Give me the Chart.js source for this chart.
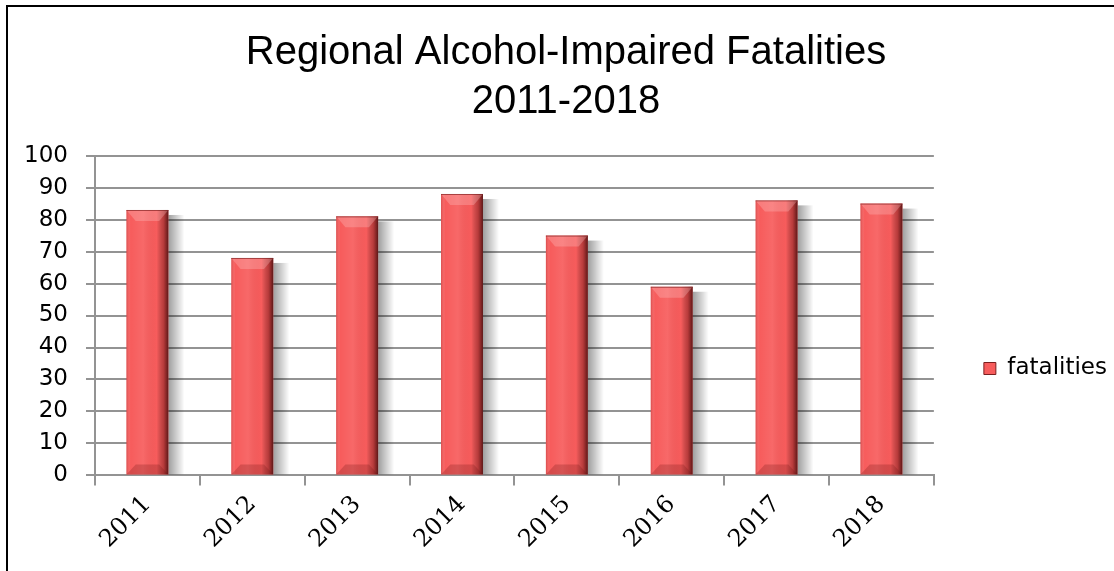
<!DOCTYPE html>
<html>
<head>
<meta charset="utf-8">
<script src="https://cdn.jsdelivr.net/npm/chart.js@4"></script>
<style>
  html, body { margin: 0; padding: 0; background: #fff; overflow: hidden; }
  #wrap { position: relative; width: 1114px; height: 571px; }
  #frame {
    position: absolute; left: 6px; top: 5px; width: 2000px; height: 1000px;
    border-left: 2px solid #000; border-top: 2px solid #000; pointer-events: none;
  }
</style>
</head>
<body>
<div id="wrap">
  <canvas id="fatalChart" width="1114" height="571"></canvas>
  <div id="frame"></div>
</div>
<script>
const years = ['2011', '2012', '2013', '2014', '2015', '2016', '2017', '2018'];
const fatalities = [83, 68, 81, 88, 75, 59, 86, 85];
const titleLines = ['Regional Alcohol-Impaired Fatalities', '2011-2018'];
const seriesName = 'fatalities';

const gridGray = '#939393';

// soft shadow to the right of every bar, plus the bevel shading on top
const barShadow = {
    id: 'barShadow',
    beforeDatasetsDraw(chart) {
        const ctx = chart.ctx;
        const meta = chart.getDatasetMeta(0);
        ctx.save();
        meta.data.forEach(bar => {
            const p = bar.getProps(['x', 'y', 'base', 'width'], true);
            const r = p.x + p.width / 2;
            const g = ctx.createLinearGradient(r, 0, r + 16, 0);
            g.addColorStop(0, 'rgba(0,0,0,0.38)');
            g.addColorStop(1, 'rgba(0,0,0,0)');
            ctx.fillStyle = g;
            ctx.fillRect(r, p.y + 5, 16, p.base - p.y - 5);
        });
        ctx.restore();
    },
    afterDatasetsDraw(chart) {
        const ctx = chart.ctx;
        const meta = chart.getDatasetMeta(0);
        ctx.save();
        meta.data.forEach(bar => {
            const p = bar.getProps(['x', 'y', 'base', 'width'], true);
            const l = p.x - p.width / 2, r = p.x + p.width / 2;
            const t = p.y, b = p.base, w = p.width;
            const g = ctx.createLinearGradient(l, 0, r, 0);
            g.addColorStop(0, 'rgba(150,30,30,0.3)');
            g.addColorStop(0.1, 'rgba(255,255,255,0)');
            g.addColorStop(0.4, 'rgba(255,255,255,0.08)');
            g.addColorStop(0.72, 'rgba(0,0,0,0)');
            g.addColorStop(0.88, 'rgba(70,0,0,0.35)');
            g.addColorStop(1, 'rgba(40,0,0,0.75)');
            ctx.fillStyle = g;
            ctx.fillRect(l, t, w, b - t);
            // top bevel
            ctx.beginPath();
            ctx.moveTo(l, t); ctx.lineTo(r, t);
            ctx.lineTo(r - w * 0.22, t + 11); ctx.lineTo(l + w * 0.22, t + 11);
            ctx.closePath();
            ctx.fillStyle = 'rgba(255,200,200,0.3)';
            ctx.fill();
            // bottom bevel
            ctx.beginPath();
            ctx.moveTo(l, b); ctx.lineTo(r, b);
            ctx.lineTo(r - w * 0.22, b - 10); ctx.lineTo(l + w * 0.22, b - 10);
            ctx.closePath();
            ctx.fillStyle = 'rgba(110,20,20,0.25)';
            ctx.fill();
            ctx.strokeStyle = 'rgba(110,20,20,0.6)';
            ctx.lineWidth = 1;
            ctx.beginPath();
            ctx.moveTo(l, t + 0.5); ctx.lineTo(r, t + 0.5);
            ctx.stroke();
        });
        ctx.restore();
    }
};

// nudge title and legend to where the original had them
const placeBlocks = {
    id: 'placeBlocks',
    afterLayout(chart) {
        const tb = chart.titleBlock;
        if (tb) { tb.left += 15; tb.right += 15; }
        const lg = chart.legend;
        if (lg) {
            const h = lg.bottom - lg.top;
            lg.left += 40; lg.right += 40;
            lg.top = 347; lg.bottom = 347 + h;
        }
    }
};

const ctx = document.getElementById('fatalChart').getContext('2d');

const fatalChart = new Chart(ctx, {
    type: 'bar',
    data: {
        labels: years,
        datasets: [{
            label: seriesName,
            data: fatalities,
            backgroundColor: '#f75c5c',
            borderWidth: 0,
            barPercentage: 0.4,
            categoryPercentage: 1
        }]
    },
    options: {
        responsive: false,
        animation: false,
        layout: {
            padding: { left: 25, right: 37, top: 0, bottom: 12 }
        },
        plugins: {
            title: {
                display: true,
                text: titleLines,
                color: '#000',
                font: { family: 'Liberation Sans', size: 40, weight: 'normal', lineHeight: 1.22 },
                padding: { top: 29, bottom: 29 }
            },
            legend: {
                position: 'right',
                align: 'start',
                labels: {
                    boxWidth: 12,
                    boxHeight: 12,
                    padding: 10,
                    color: '#000',
                    font: { family: 'DejaVu Sans', size: 23 },
                    generateLabels(chart) {
                        const items = Chart.defaults.plugins.legend.labels.generateLabels(chart);
                        items.forEach(it => { it.strokeStyle = '#7a1f1f'; it.lineWidth = 1; });
                        return items;
                    }
                }
            },
            tooltip: { enabled: false }
        },
        scales: {
            x: {
                offset: true,
                afterFit(scale) { scale.paddingLeft = 0; },
                grid: {
                    offset: true,
                    drawOnChartArea: false,
                    drawTicks: true,
                    tickLength: 10,
                    color: gridGray,
                    lineWidth: 2
                },
                border: { color: gridGray, width: 2 },
                ticks: {
                    minRotation: 45,
                    maxRotation: 45,
                    padding: 5,
                    color: '#000',
                    font: { family: 'DejaVu Serif', size: 24 }
                }
            },
            y: {
                min: 0,
                max: 100,
                afterFit(scale) { scale.width = 70; },
                grid: {
                    color: gridGray,
                    lineWidth: 2,
                    tickLength: 9
                },
                border: { color: gridGray, width: 2 },
                ticks: {
                    stepSize: 10,
                    padding: 18,
                    color: '#000',
                    font: { family: 'DejaVu Sans', size: 23 }
                }
            }
        }
    },
    plugins: [barShadow, placeBlocks]
});
</script>
</body>
</html>
